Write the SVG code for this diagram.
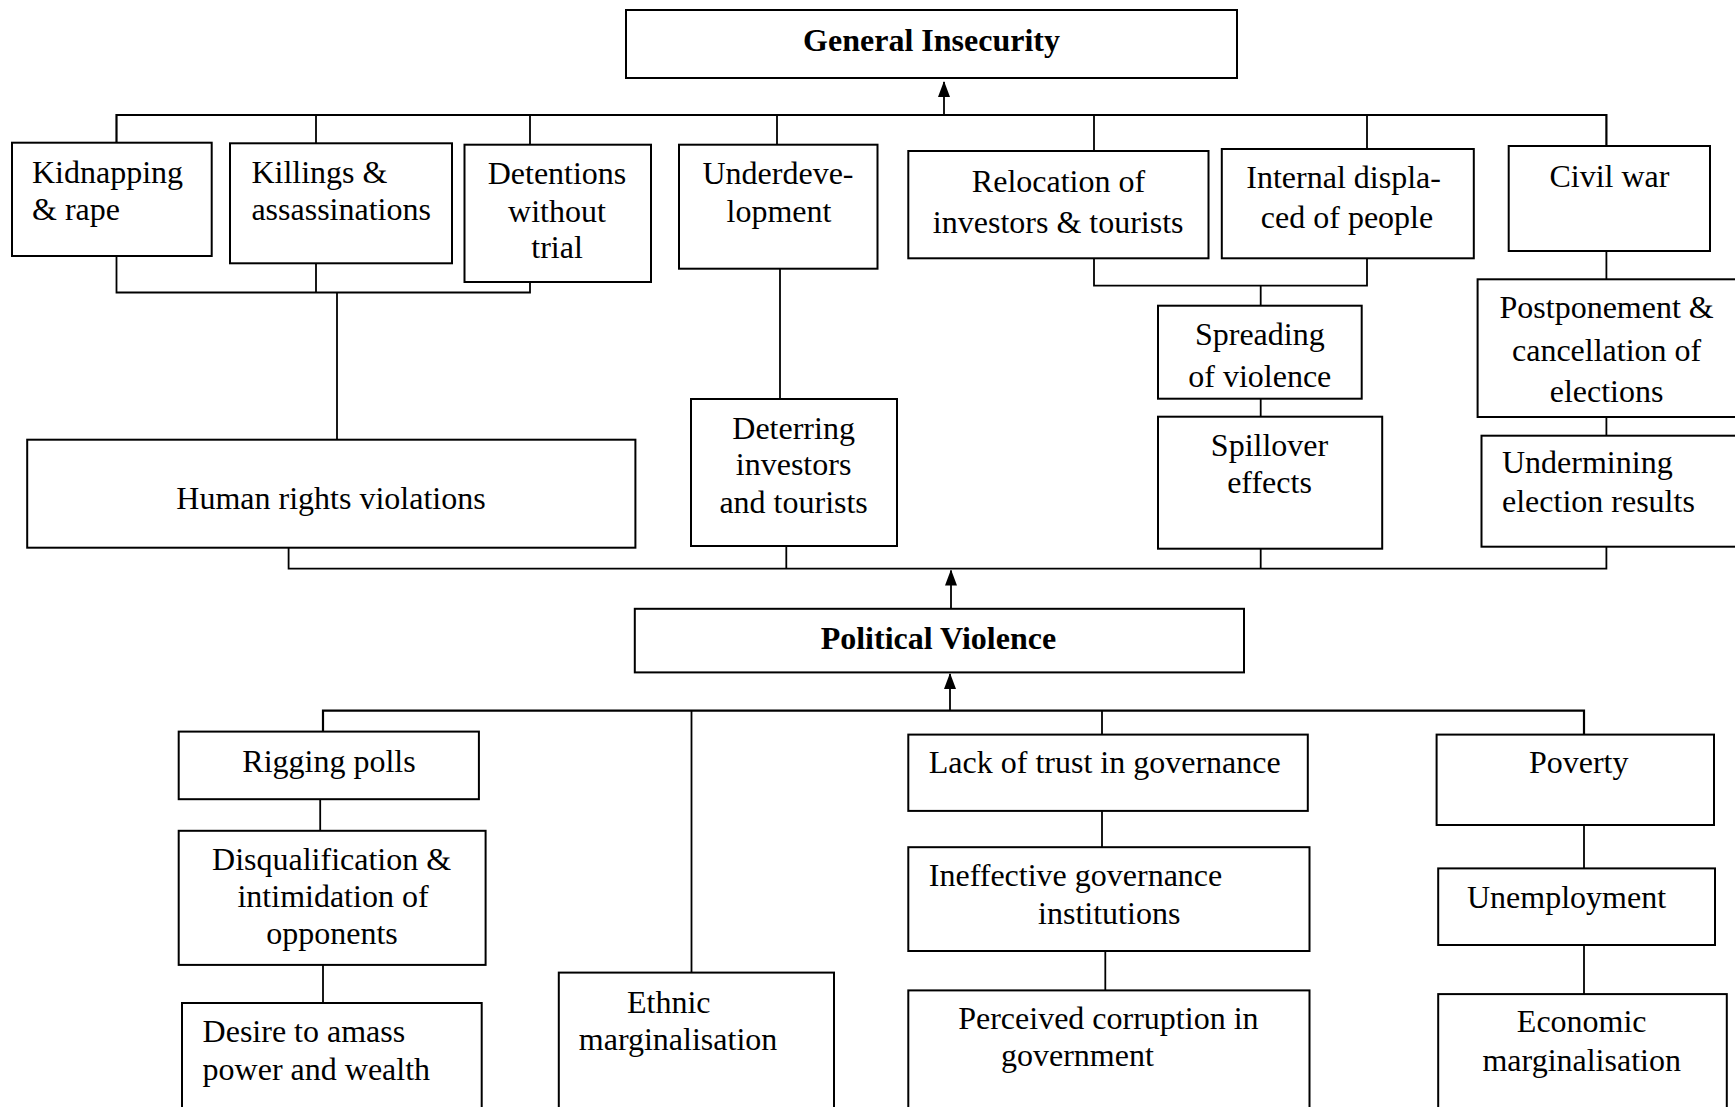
<svg xmlns="http://www.w3.org/2000/svg" width="1735" height="1107" viewBox="0 0 1735 1107">
<style>
.box{fill:#fff;stroke:#000;stroke-width:2}
.ln{fill:none;stroke:#000;stroke-width:1.8}
.bus{fill:none;stroke:#000;stroke-width:2.2}
text{font-family:"Liberation Serif","Times New Roman",serif;font-size:32px;fill:#000}
.c{text-anchor:middle}
.b{font-weight:bold}
</style>
<defs>
<marker id="arr" markerWidth="12" markerHeight="16" refX="6" refY="1" orient="0" markerUnits="userSpaceOnUse">
<path d="M0,16 L6,0 L12,16 Z" fill="#000"/>
</marker>
</defs>
<rect width="1735" height="1107" fill="#fff"/>
<g id="connectors">
<polyline class="bus" points="116.5,142.7 116.5,115 1606.4,115 1606.4,146"/>
<line class="ln" x1="316" y1="115" x2="316" y2="143.3"/>
<line class="ln" x1="530" y1="115" x2="530" y2="144.7"/>
<line class="ln" x1="777" y1="115" x2="777" y2="144.7"/>
<line class="ln" x1="1094" y1="115" x2="1094" y2="151"/>
<line class="ln" x1="1367" y1="115" x2="1367" y2="149"/>
<line class="ln" x1="944" y1="115" x2="944" y2="82" marker-end="url(#arr)"/>
<polyline class="ln" points="116.5,256 116.5,292.5 530,292.5 530,282"/>
<line class="ln" x1="316" y1="263.3" x2="316" y2="292.5"/>
<line class="ln" x1="337" y1="292.5" x2="337" y2="439.7"/>
<line class="ln" x1="780" y1="268.7" x2="780" y2="399"/>
<polyline class="ln" points="1094,258.3 1094,285.7 1367,285.7 1367,258.3"/>
<line class="ln" x1="1260.7" y1="285.7" x2="1260.7" y2="305.7"/>
<line class="ln" x1="1260.7" y1="398.7" x2="1260.7" y2="416.7"/>
<line class="ln" x1="1606.4" y1="251" x2="1606.4" y2="279.3"/>
<line class="ln" x1="1606.4" y1="417" x2="1606.4" y2="435.7"/>
<polyline class="ln" points="288.6,547.7 288.6,568.7 1606.4,568.7 1606.4,546.7"/>
<line class="ln" x1="786.3" y1="546" x2="786.3" y2="568.7"/>
<line class="ln" x1="1260.7" y1="548.7" x2="1260.7" y2="568.7"/>
<line class="ln" x1="951" y1="608.6" x2="951" y2="570.5" marker-end="url(#arr)"/>
<line class="ln" x1="950" y1="710.7" x2="950" y2="674" marker-end="url(#arr)"/>
<polyline class="bus" points="323,731.6 323,710.7 1584,710.7 1584,734.6"/>
<line class="ln" x1="691.5" y1="710.7" x2="691.5" y2="972.6"/>
<line class="ln" x1="1102" y1="710.7" x2="1102" y2="734.6"/>
<line class="ln" x1="320.2" y1="799.2" x2="320.2" y2="830.8"/>
<line class="ln" x1="323" y1="964.9" x2="323" y2="1003"/>
<line class="ln" x1="1102" y1="811" x2="1102" y2="847.2"/>
<line class="ln" x1="1105.3" y1="951" x2="1105.3" y2="990.4"/>
<line class="ln" x1="1584" y1="825" x2="1584" y2="868.4"/>
<line class="ln" x1="1584" y1="945" x2="1584" y2="994.1"/>
</g>
<g id="general-insecurity"><rect class="box" x="626" y="10" width="611" height="68"/><text class="c b" x="931.5" y="51">General Insecurity</text></g>
<g id="kidnapping"><rect class="box" x="12" y="142.7" width="199.7" height="113.3"/><text x="32" y="182.7">Kidnapping</text><text x="32" y="220">&amp; rape</text></g>
<g id="killings"><rect class="box" x="230" y="143.3" width="222" height="120"/><text x="251.4" y="182.7">Killings &amp;</text><text x="251.4" y="220">assassinations</text></g>
<g id="detentions"><rect class="box" x="464.5" y="144.7" width="186.5" height="137.3"/><text class="c" x="557" y="184.3">Detentions</text><text class="c" x="557" y="221.7">without</text><text class="c" x="557" y="258.3">trial</text></g>
<g id="underdevelopment"><rect class="box" x="679" y="144.7" width="198.5" height="124"/><text class="c" x="778" y="184.3">Underdeve-</text><text class="c" x="779" y="221.7">lopment</text></g>
<g id="relocation"><rect class="box" x="908.3" y="151" width="300.2" height="107.3"/><text class="c" x="1058.5" y="191.7">Relocation of</text><text class="c" x="1058.2" y="233.3">investors &amp; tourists</text></g>
<g id="internal-displaced"><rect class="box" x="1221.8" y="149" width="252" height="109.3"/><text class="c" x="1343.6" y="188.3">Internal displa-</text><text class="c" x="1347" y="227.7">ced of people</text></g>
<g id="civil-war"><rect class="box" x="1508.7" y="146" width="201.3" height="105"/><text class="c" x="1609.4" y="186.7">Civil war</text></g>
<g id="human-rights"><rect class="box" x="27.2" y="439.7" width="608.2" height="108"/><text class="c" x="331" y="509.3">Human rights violations</text></g>
<g id="deterring"><rect class="box" x="691" y="399" width="206" height="147"/><text class="c" x="793.6" y="439.3">Deterring</text><text class="c" x="793.6" y="475">investors</text><text class="c" x="793.6" y="513.3">and tourists</text></g>
<g id="spreading"><rect class="box" x="1158" y="305.7" width="203.7" height="93"/><text class="c" x="1259.8" y="345">Spreading</text><text class="c" x="1259.8" y="386.7">of violence</text></g>
<g id="spillover"><rect class="box" x="1158" y="416.7" width="224.2" height="132"/><text class="c" x="1269.5" y="456">Spillover</text><text class="c" x="1269.5" y="493.3">effects</text></g>
<g id="postponement"><rect class="box" x="1477.6" y="279.3" width="280" height="137.7"/><text class="c" x="1606.6" y="318.3">Postponement &amp;</text><text class="c" x="1606.6" y="360.7">cancellation of</text><text class="c" x="1606.6" y="401.7">elections</text></g>
<g id="undermining"><rect class="box" x="1481.5" y="435.7" width="280" height="111"/><text x="1502" y="473.3">Undermining</text><text x="1502" y="511.7">election results</text></g>
<g id="political-violence"><rect class="box" x="634.8" y="608.8" width="609.2" height="63.6"/><text class="c b" x="938.4" y="648.9">Political Violence</text></g>
<g id="rigging"><rect class="box" x="178.7" y="731.6" width="300.2" height="67.6"/><text class="c" x="329" y="771.6">Rigging polls</text></g>
<g id="disqualification"><rect class="box" x="178.7" y="830.8" width="306.9" height="134.1"/><text class="c" x="331.6" y="869.8">Disqualification &amp;</text><text class="c" x="333" y="906.7">intimidation of</text><text class="c" x="332" y="944">opponents</text></g>
<g id="desire"><rect class="box" x="182" y="1003" width="299.7" height="130"/><text x="202.6" y="1042.2">Desire to amass</text><text x="202.6" y="1079.8">power and wealth</text></g>
<g id="ethnic"><rect class="box" x="558.8" y="972.6" width="275.2" height="160"/><text x="627" y="1012.6">Ethnic</text><text x="578.8" y="1049.6">marginalisation</text></g>
<g id="lack-of-trust"><rect class="box" x="908.3" y="734.6" width="399.5" height="76.3"/><text x="928.8" y="773.3">Lack of trust in governance</text></g>
<g id="ineffective"><rect class="box" x="908.3" y="847.2" width="401.2" height="103.8"/><text x="928.8" y="885.9">Ineffective governance</text><text x="1038.1" y="923.5">institutions</text></g>
<g id="perceived-corruption"><rect class="box" x="908.3" y="990.4" width="401.2" height="140"/><text x="958.2" y="1029.4">Perceived corruption in</text><text x="1001" y="1066.4">government</text></g>
<g id="poverty"><rect class="box" x="1436.6" y="734.6" width="277.4" height="90.4"/><text class="c" x="1578.7" y="773.3">Poverty</text></g>
<g id="unemployment"><rect class="box" x="1438.2" y="868.4" width="276.8" height="76.6"/><text x="1467" y="907.7">Unemployment</text></g>
<g id="economic"><rect class="box" x="1438.2" y="994.1" width="288.6" height="140"/><text class="c" x="1581.7" y="1032">Economic</text><text class="c" x="1581.7" y="1070.8">marginalisation</text></g>
</svg>
